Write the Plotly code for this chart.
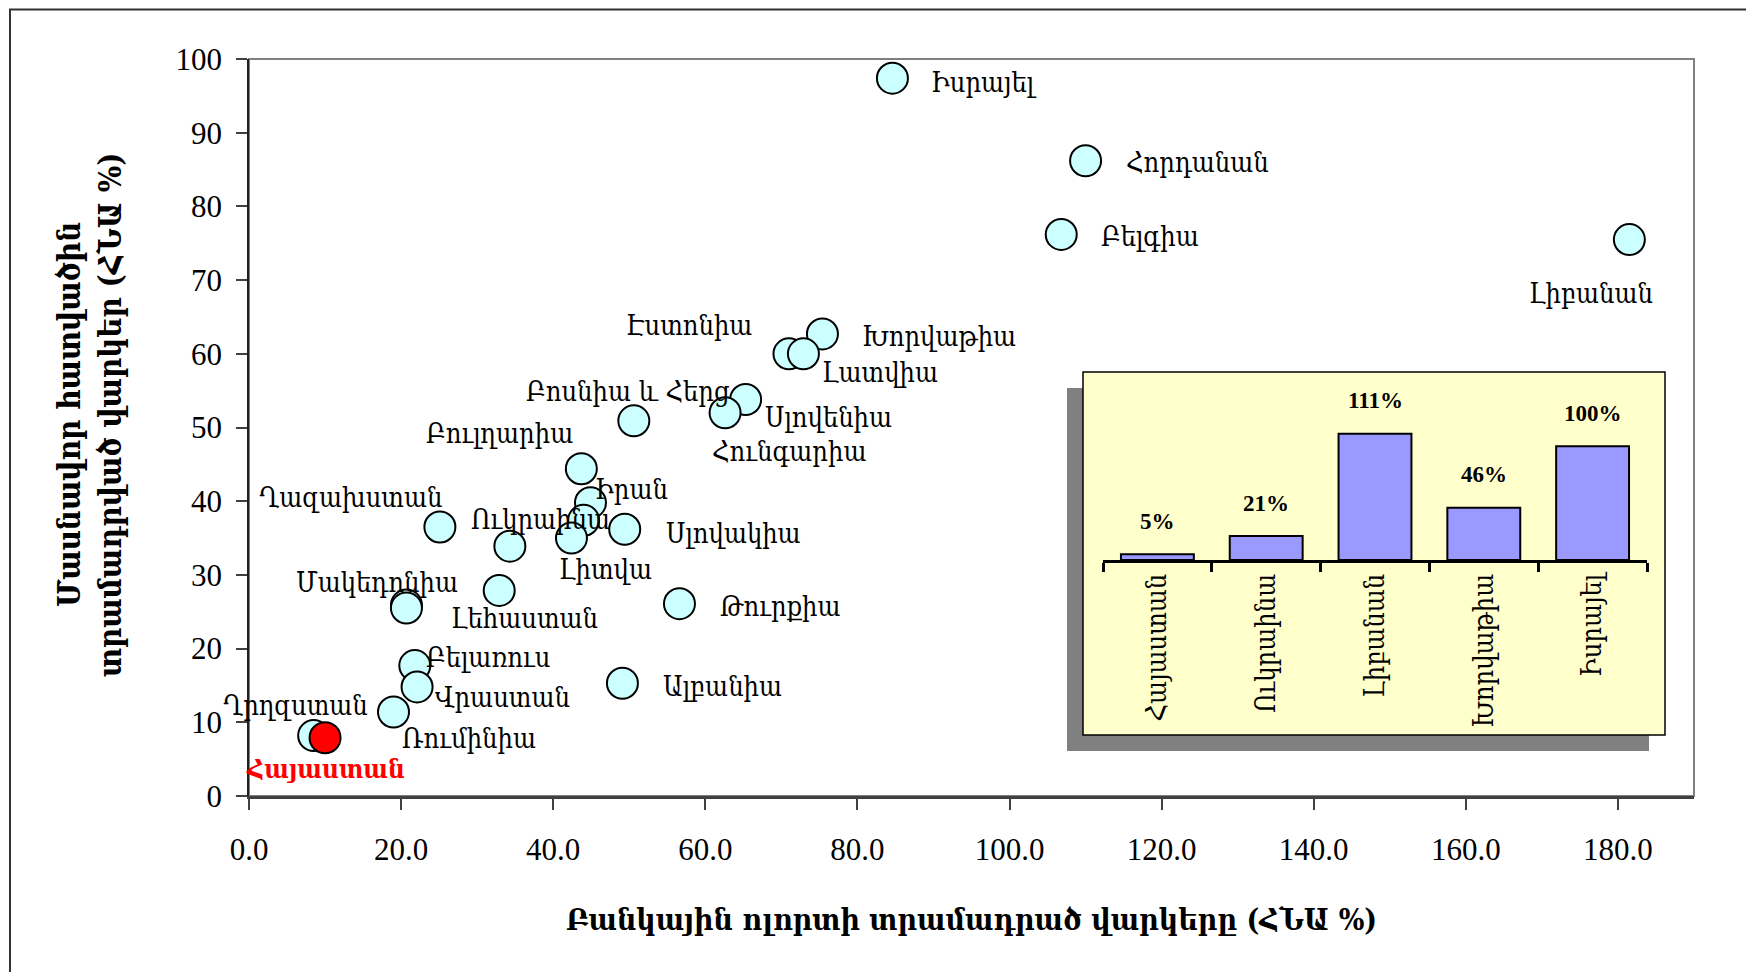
import plotly.graph_objects as go

# ---------------- data ----------------
countries = ["Իսրայել", "Հորդանան", "Բելգիա", "Լիբանան", "Խորվաթիա", "Էստոնիա", "Լատվիա",
             "Սլովենիա", "Հունգարիա", "Բոսնիա և Հերց", "Բուլղարիա", "Իրան", "",
             "Ուկրաինա", "Լիտվա", "Սլովակիա", "Ղազախստան", "Մակեդոնիա", "", "Լեհաստան",
             "Թուրքիա", "Բելառուս", "Վրաստան", "Ալբանիա", "Ռումինիա", "Ղրղզստան"]
bank_credit = [84.6, 110.0, 106.8, 181.5, 75.4, 71.0, 72.9,
               65.3, 62.6, 50.6, 43.7, 44.9, 44.0,
               34.3, 42.4, 49.4, 25.1, 20.7, 20.7, 32.9,
               56.6, 21.8, 22.1, 49.1, 19.0, 8.5]
private_credit = [97.4, 86.2, 76.2, 75.5, 62.7, 60.0, 60.0,
                  53.8, 52.0, 50.9, 44.4, 39.8, 37.4,
                  33.9, 35.0, 36.2, 36.5, 25.9, 25.5, 27.9,
                  26.1, 17.7, 14.8, 15.3, 11.4, 8.2]
armenia_name = "Հայաստան"
armenia_bank = [10.0]
armenia_private = [7.9]

inset_categories = ["Հայաստան", "Ուկրաինա", "Լիբանան", "Խորվաթիա", "Իսրայել"]
inset_values = [5, 21, 111, 46, 100]
inset_text = ["5%", "21%", "111%", "46%", "100%"]

x_title = "Բանկային ոլորտի տրամադրած վարկերը (ՀՆԱ %)"
y_title_1 = "Մասնավոր հատվածին"
y_title_2 = "տրամադրված վարկեր (ՀՆԱ %)"

# ---------------- styles ----------------
ARM_FONT = "DejaVu Serif Condensed, DejaVu Serif, serif"
NUM_FONT = "Liberation Serif, DejaVu Serif, serif"
LABEL_SIZE = 27
# label placement: (xanchor, dx, dy) in pixels relative to marker centre (dy positive = down)
label_pos = {
    "Իսրայել": ("left", 37, 4), "Հորդանան": ("left", 38, 2), "Բելգիա": ("left", 38, 2),
    "Լիբանան": ("center", -38, 54), "Խորվաթիա": ("left", 38, 3), "Էստոնիա": ("right", -35, -28),
    "Լատվիա": ("left", 17, 19), "Սլովենիա": ("left", 17, 18), "Հունգարիա": ("center", 64, 39),
    "Բոսնիա և Հերց": ("center", -6, -29), "Բուլղարիա": ("right", -6, -35), "Իրան": ("left", 3, -13),
    "Ուկրաինա": ("center", 31, -27), "Լիտվա": ("center", 34, 31), "Սլովակիա": ("left", 39, 4),
    "Ղազախստան": ("right", 4, -30), "Մակեդոնիա": ("center", -29, -23), "Լեհաստան": ("center", 25, 28),
    "Թուրքիա": ("left", 39, 3), "Բելառուս": ("left", 9, -8), "Վրաստան": ("left", 16, 11),
    "Ալբանիա": ("left", 39, 3), "Ռումինիա": ("left", 6, 27), "Ղրղզստան": ("center", -18, -30),
}

# page geometry (the page body has an 8px margin)
OFF = 8
W, H = 1754 - OFF, 972 - OFF
PL, PR, PT, PB = 249, 1694, 59, 796          # plot area in page pixels
L, T = PL - OFF, PT - OFF
R, B = W - (PR - OFF), H - (PB - OFF)


def px(xp):
    return (xp - PL) / (PR - PL)


def py(yp):
    return (PB - yp) / (PB - PT)


fig = go.Figure()

fig.add_trace(go.Scatter(
    x=bank_credit, y=private_credit, mode="markers",
    marker=dict(size=31, color="#CCFFFF", line=dict(color="black", width=2)),
    hoverinfo="skip", showlegend=False))
fig.add_trace(go.Scatter(
    x=armenia_bank, y=armenia_private, mode="markers",
    marker=dict(size=31, color="#FF0000", line=dict(color="black", width=2)),
    hoverinfo="skip", showlegend=False))

annotations = []
for name, xv, yv in zip(countries, bank_credit, private_credit):
    if not name:
        continue
    anc, dx, dy = label_pos[name]
    annotations.append(dict(x=xv, y=yv, xref="x", yref="y", text=name, showarrow=False,
                            xanchor=anc, yanchor="middle", xshift=dx, yshift=-dy,
                            font=dict(family=ARM_FONT, size=LABEL_SIZE, color="black")))
annotations.append(dict(x=armenia_bank[0], y=armenia_private[0], xref="x", yref="y",
                        text="<b>" + armenia_name + "</b>", showarrow=False,
                        xanchor="center", yanchor="middle", xshift=0, yshift=-31,
                        font=dict(family=ARM_FONT, size=LABEL_SIZE - 1, color="#FF0000")))

# inset bars
fig.add_trace(go.Bar(
    x=inset_categories, y=inset_values, xaxis="x2", yaxis="y2", width=0.67,
    marker=dict(color="#9999FF", line=dict(color="black", width=2)),
    hoverinfo="skip", showlegend=False))
for c, v, t in zip(inset_categories, inset_values, inset_text):
    annotations.append(dict(x=c, y=v, xref="x2", yref="y2", text="<b>" + t + "</b>",
                            showarrow=False, xanchor="center", yanchor="middle", yshift=33,
                            font=dict(family=NUM_FONT, size=23, color="black")))

# axis titles
annotations.append(dict(x=0.5, y=py(919), xref="paper", yref="paper", text="<b>" + x_title + "</b>",
                        showarrow=False, xanchor="center", yanchor="middle",
                        font=dict(family=ARM_FONT, size=30, color="black")))
annotations.append(dict(x=px(69), y=py(415), xref="paper", yref="paper", text="<b>" + y_title_1 + "</b>",
                        showarrow=False, textangle=-90, xanchor="center", yanchor="middle",
                        font=dict(family=ARM_FONT, size=31, color="black")))
annotations.append(dict(x=px(110), y=py(415), xref="paper", yref="paper", text="<b>" + y_title_2 + "</b>",
                        showarrow=False, textangle=-90, xanchor="center", yanchor="middle",
                        font=dict(family=ARM_FONT, size=31, color="black")))

shapes = [
    # outer frame
    dict(type="rect", xref="paper", yref="paper", x0=px(10), x1=1.2, y0=-0.4, y1=py(9.5),
         line=dict(color="#333333", width=2), fillcolor="rgba(0,0,0,0)", layer="below"),
    # plot border (top/right grey)
    dict(type="rect", xref="paper", yref="paper", x0=0, x1=1, y0=0, y1=1,
         line=dict(color="#808080", width=2), fillcolor="rgba(0,0,0,0)", layer="below"),
    # inset shadow
    dict(type="rect", xref="paper", yref="paper", x0=px(1067), x1=px(1649), y0=py(751), y1=py(388),
         line=dict(width=0), fillcolor="#808080", layer="below"),
    # inset box
    dict(type="rect", xref="paper", yref="paper", x0=px(1083), x1=px(1665), y0=py(735), y1=py(372),
         line=dict(color="black", width=1.5), fillcolor="#FFFFCC", layer="below"),
]

fig.update_layout(
    width=W, height=H,
    margin=dict(l=L, r=R, t=T, b=B),
    paper_bgcolor="white", plot_bgcolor="rgba(0,0,0,0)",
    showlegend=False,
    xaxis=dict(range=[0, 190], dtick=20, tick0=0, tickformat=".1f", showgrid=False, zeroline=False,
               showline=True, linecolor="#404040", linewidth=2.5, ticks="outside", ticklen=11,
               tickcolor="#404040", tickwidth=1.5, ticklabelstandoff=13,
               tickfont=dict(family=NUM_FONT, size=31, color="black")),
    yaxis=dict(range=[0, 100], dtick=10, tick0=0, showgrid=False, zeroline=False,
               showline=True, linecolor="#202020", linewidth=1.5, ticks="outside", ticklen=11,
               tickcolor="#404040", tickwidth=1.5, ticklabelstandoff=8,
               tickfont=dict(family=NUM_FONT, size=31, color="black")),
    xaxis2=dict(domain=[px(1103), px(1647)], anchor="y2", type="category", showgrid=False,
                zeroline=False, showline=True, linecolor="black", linewidth=3,
                ticks="outside", tickson="boundaries", ticklen=9, tickwidth=3, tickcolor="black",
                tickangle=-90, tickfont=dict(family=ARM_FONT, size=27, color="black")),
    yaxis2=dict(domain=[py(560), py(412)], anchor="x2", range=[0, 130], visible=False,
                showgrid=False, zeroline=False),
    bargap=0.33,
    annotations=annotations,
    shapes=shapes,
)

fig.write_html("out.html")
